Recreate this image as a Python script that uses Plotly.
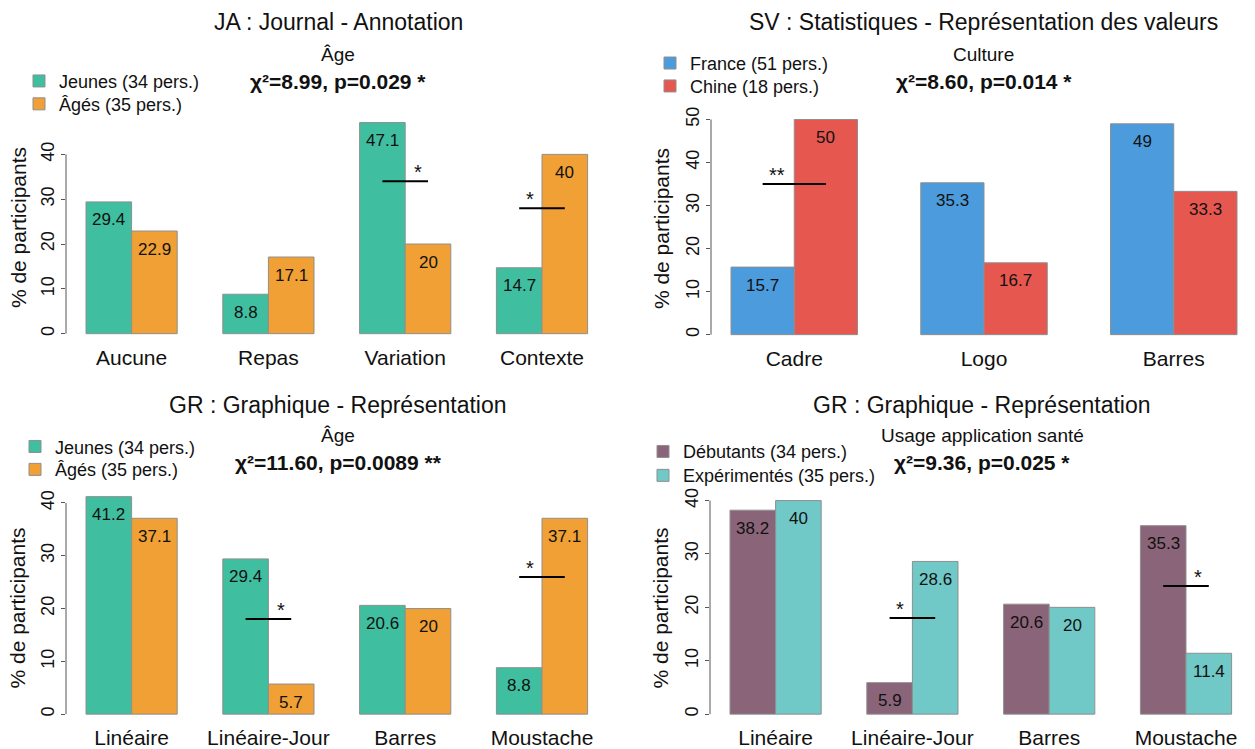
import plotly.graph_objects as go

W, H = 1255, 749
FONT = "Liberation Sans, Arial, Helvetica, sans-serif"
TXT = "#111111"

# ---------------- data ----------------
ja_categories = ["Aucune", "Repas", "Variation", "Contexte"]
ja_jeunes = [29.4, 8.8, 47.1, 14.7]
ja_ages = [22.9, 17.1, 20, 40]
age_series = ["Jeunes (34 pers.)", "Âgés (35 pers.)"]
ja_sig_groups = ["Variation", "Contexte"]
ja_sig_levels = [34, 28]
ja_sig_labels = ["*", "*"]

sv_categories = ["Cadre", "Logo", "Barres"]
sv_france = [15.7, 35.3, 49]
sv_chine = [50, 16.7, 33.3]
sv_series = ["France (51 pers.)", "Chine (18 pers.)"]
sv_sig_groups = ["Cadre"]
sv_sig_levels = [35]
sv_sig_labels = ["**"]

gr_categories = ["Linéaire", "Linéaire-Jour", "Barres", "Moustache"]
gra_jeunes = [41.2, 29.4, 20.6, 8.8]
gra_ages = [37.1, 5.7, 20, 37.1]
gra_sig_groups = ["Linéaire-Jour", "Moustache"]
gra_sig_levels = [18, 26]
gra_sig_labels = ["*", "*"]

gru_debutants = [38.2, 5.9, 20.6, 35.3]
gru_experimentes = [40, 28.6, 20, 11.4]
gru_series = ["Débutants (34 pers.)", "Expérimentés (35 pers.)"]
gru_sig_groups = ["Linéaire-Jour", "Moustache"]
gru_sig_levels = [18, 24]
gru_sig_labels = ["*", "*"]

c_green, c_orange = "#3FBF9F", "#F0A034"
c_blue, c_red = "#4C9BDC", "#E5574F"
c_purple, c_cyan = "#8A6579", "#70C8C7"

panels = [
    dict(title="JA : Journal - Annotation", subtitle="Âge", stat="χ²=8.99, p=0.029 *",
         cats=ja_categories, names=age_series, vals=[ja_jeunes, ja_ages], colors=[c_green, c_orange],
         sig=(ja_sig_groups, ja_sig_levels, ja_sig_labels), yticks=[0, 10, 20, 30, 40],
         xl=66, xr=608, bar1=86, unit=45.6, y0=335, ppu=4.5, yb=344, yt=105,
         tx=338, ty=(22, 55, 82), leg_x=19, leg_y=(82, 105), ytl=(18, 229)),
    dict(title="SV : Statistiques - Représentation des valeurs", subtitle="Culture", stat="χ²=8.60, p=0.014 *",
         cats=sv_categories, names=sv_series, vals=[sv_france, sv_chine], colors=[c_blue, c_red],
         sig=(sv_sig_groups, sv_sig_levels, sv_sig_labels), yticks=[0, 10, 20, 30, 40, 50],
         xl=711, xr=1255, bar1=731, unit=63.25, y0=336, ppu=4.32, yb=345, yt=105,
         tx=984, ty=(22, 55, 82), leg_x=650, leg_y=(64, 87), ytl=(661, 230)),
    dict(title="GR : Graphique - Représentation", subtitle="Âge", stat="χ²=11.60, p=0.0089 **",
         cats=gr_categories, names=age_series, vals=[gra_jeunes, gra_ages], colors=[c_green, c_orange],
         sig=(gra_sig_groups, gra_sig_levels, gra_sig_labels), yticks=[0, 10, 20, 30, 40],
         xl=66, xr=608, bar1=86, unit=45.6, y0=717, ppu=5.3, yb=726, yt=490,
         tx=338, ty=(407, 437, 464), leg_x=15, leg_y=(449, 472), ytl=(18, 611)),
    dict(title="GR : Graphique - Représentation", subtitle="Usage application santé", stat="χ²=9.36, p=0.025 *",
         cats=gr_categories, names=gru_series, vals=[gru_debutants, gru_experimentes], colors=[c_purple, c_cyan],
         sig=(gru_sig_groups, gru_sig_levels, gru_sig_labels), yticks=[0, 10, 20, 30, 40],
         xl=710, xr=1252, bar1=730, unit=45.6, y0=717, ppu=5.36, yb=726, yt=490,
         tx=982, ty=(407, 437, 464), leg_x=643, leg_y=(454, 478), ytl=(661, 611)),
]

fig = go.Figure()
annotations = []
shapes = []
layout = {}
legend_count = 0

for i, p in enumerate(panels):
    n = i + 1
    xa = "x" if n == 1 else f"x{n}"
    ya = "y" if n == 1 else f"y{n}"
    xkey = "xaxis" if n == 1 else f"xaxis{n}"
    ykey = "yaxis" if n == 1 else f"yaxis{n}"
    ng = len(p["cats"])
    # R barplot(beside=TRUE) positions: bar j of group k spans [1+3k+j, 2+3k+j]
    centers = [[3 * k + 1.5 + j for k in range(ng)] for j in range(2)]
    for j in range(2):
        legend_count += 1
        lkey = "legend" if legend_count == 1 else f"legend{legend_count}"
        fig.add_trace(go.Bar(
            x=centers[j], y=p["vals"][j], width=1, name=p["names"][j],
            marker=dict(color=p["colors"][j], line=dict(color="#8f8f8f", width=1)),
            xaxis=xa, yaxis=ya, legend=lkey, hoverinfo="y"))
        layout[lkey] = dict(x=p["leg_x"] / W, y=1 - (p["leg_y"][j] - 19) / H, xanchor="left", yanchor="top",
                            bgcolor="rgba(0,0,0,0)", font=dict(size=18, color=TXT, family=FONT),
                            itemclick=False, itemdoubleclick=False)
        for xc, v in zip(centers[j], p["vals"][j]):
            annotations.append(dict(x=xc, y=v, xref=xa, yref=ya, text=f"{v:g}", showarrow=False,
                                    yanchor="middle", yshift=-18, font=dict(size=17, color=TXT, family=FONT)))
    # significance bars
    groups, levels, labels = p["sig"]
    for g, lvl, lab in zip(groups, levels, labels):
        k = p["cats"].index(g)
        x1, x2 = centers[0][k], centers[1][k]
        fig.add_trace(go.Scatter(x=[x1, x2], y=[lvl, lvl], mode="lines",
                                 line=dict(color="black", width=2), xaxis=xa, yaxis=ya,
                                 showlegend=False, hoverinfo="skip"))
        low = 0 if p["vals"][0][k] < p["vals"][1][k] else 1
        sx = (x1 + x2) / 2 + (-0.27 if low == 0 else 0.27)
        annotations.append(dict(x=sx, y=lvl, xref=xa, yref=ya, text=lab, showarrow=False,
                                yanchor="bottom", yshift=-4, font=dict(size=20, color=TXT, family=FONT)))
    xr0 = 1 - (p["bar1"] - p["xl"]) / p["unit"]
    xr1 = 1 + (p["xr"] - p["bar1"]) / p["unit"]
    yr0 = (p["y0"] - p["yb"]) / p["ppu"]
    yr1 = (p["y0"] - p["yt"]) / p["ppu"]
    layout[xkey] = dict(domain=[p["xl"] / W, p["xr"] / W], range=[xr0, xr1], anchor=ya,
                        tickmode="array", tickvals=[3 * k + 2 for k in range(ng)], ticktext=p["cats"],
                        showgrid=False, zeroline=False, showline=False, ticks="",
                        tickfont=dict(size=21, color=TXT, family=FONT), fixedrange=True)
    layout[ykey] = dict(domain=[1 - p["yb"] / H, 1 - p["yt"] / H], range=[yr0, yr1], anchor=xa,
                        tickmode="array", tickvals=p["yticks"], ticks="outside", ticklen=4,
                        tickcolor="#555555", tickwidth=1, tickangle=-90,
                        showgrid=False, zeroline=False, showline=False,
                        tickfont=dict(size=18, color=TXT, family=FONT), fixedrange=True)
    shapes.append(dict(type="line", xref=f"{xa} domain", yref=ya, x0=0, x1=0,
                       y0=p["yticks"][0], y1=p["yticks"][-1], line=dict(color="#555555", width=1)))
    # titles
    for txt, yy, sz, bold in [(p["title"], p["ty"][0], 23, False), (p["subtitle"], p["ty"][1], 19, False),
                              (p["stat"], p["ty"][2], 21, True)]:
        annotations.append(dict(x=p["tx"] / W, y=1 - yy / H, xref="paper", yref="paper",
                                text=f"<b>{txt}</b>" if bold else txt, showarrow=False,
                                xanchor="center", yanchor="middle",
                                font=dict(size=sz, color=TXT, family=FONT)))
    annotations.append(dict(x=p["ytl"][0] / W, y=1 - p["ytl"][1] / H, xref="paper", yref="paper",
                            text="% de participants", textangle=-90, showarrow=False,
                            xanchor="center", yanchor="middle", font=dict(size=21, color=TXT, family=FONT)))

fig.update_layout(width=W, height=H, margin=dict(l=0, r=0, t=0, b=0), autosize=False,
                  paper_bgcolor="white", plot_bgcolor="white", barmode="overlay",
                  font=dict(family=FONT, color=TXT), annotations=annotations, shapes=shapes,
                  **layout)
fig.write_html("out.html", config={"displayModeBar": False, "staticPlot": False},
               post_script="document.body.style.margin='0';document.body.style.padding='0';"
                           "document.documentElement.style.overflow='hidden';")
